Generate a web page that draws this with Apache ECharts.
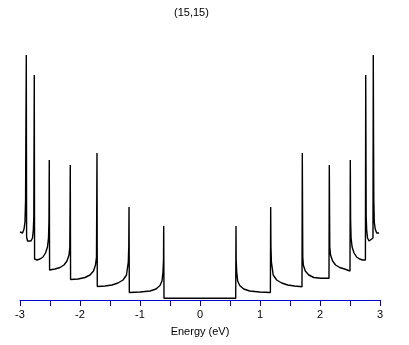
<!DOCTYPE html>
<html>
<head>
<meta charset="utf-8">
<script src="https://cdn.jsdelivr.net/npm/echarts@6/dist/echarts.min.js"></script>
<style>html,body{margin:0;padding:0;background:#fff;}#c{width:409px;height:345px;}</style>
</head>
<body>
<div id="c"></div>
<script>
// Density of states of the (15,15) nanotube
var titleText = "(15,15)";
var xName = "Energy (eV)";
var xTicks = [-3, -2, -1, 0, 1, 2, 3];

var energyLeft = [-3.000,-2.983,-2.958,-2.933,-2.917,-2.907,-2.903,-2.895,-2.890,-2.875,-2.850,-2.817,-2.792,-2.778,-2.770,-2.762,
  -2.757,-2.717,-2.667,-2.617,-2.575,-2.542,-2.525,-2.517,-2.512,
  -2.507,-2.417,-2.333,-2.267,-2.217,-2.183,-2.170,-2.162,
  -2.157,-2.033,-1.917,-1.833,-1.775,-1.742,-1.725,-1.717,
  -1.712,-1.583,-1.467,-1.367,-1.283,-1.225,-1.195,-1.187,-1.183,
  -1.178,-1.000,-0.833,-0.733,-0.667,-0.633,-0.617,-0.608,-0.605,-0.600];
var dosLeft = [6.8,6.65,6.7,7.1,7.8,10.0,15.3,24.5,6.3,5.9,5.8,5.9,6.2,7.0,8.3,22.5,
  4.1,4.0,4.1,4.3,4.7,5.3,6.2,8.0,14.0,
  3.0,3.1,3.25,3.5,3.9,4.5,5.3,13.5,
  2.05,2.1,2.25,2.5,2.9,3.5,4.3,14.7,
  1.35,1.4,1.5,1.7,2.0,2.5,3.8,5.4,9.3,
  0.75,0.8,0.9,1.1,1.45,1.9,2.8,4.0,7.4,0.17];

var energyGap = [0.0];
var dosGap = [0.17];

var energyRight = [0.595,0.600,0.603,0.612,0.628,0.662,0.728,0.828,0.995,
  1.173,1.178,1.182,1.190,1.220,1.278,1.362,1.462,1.578,
  1.700,1.705,1.713,1.722,1.755,1.813,1.897,2.013,
  2.150,2.155,2.163,2.176,2.210,2.260,2.327,2.410,
  2.500,2.505,2.510,2.518,2.535,2.568,2.610,2.660,2.710,
  2.757,2.762,2.770,2.778,2.792,2.817,2.850,
  2.883,2.888,2.893,2.897,2.905,2.920,2.945,2.970,2.985];
var dosRight = [0.17,7.4,4.0,2.8,1.9,1.45,1.1,0.9,0.8,
  0.75,9.3,5.4,3.8,2.5,2.0,1.7,1.5,1.4,
  1.33,14.7,4.3,3.5,2.9,2.5,2.25,2.17,
  2.17,13.5,5.3,4.5,3.9,3.5,3.25,3.1,
  2.9,14.0,8.0,6.2,5.3,4.7,4.3,4.1,4.0,
  4.0,22.5,8.3,7.0,6.2,5.9,5.8,
  6.2,24.5,15.3,10.0,7.8,7.1,6.7,6.65,6.7];

var energy = energyLeft.concat(energyGap, energyRight);
var dos = dosLeft.concat(dosGap, dosRight);
var seriesData = energy.map(function (e, i) { return [e, dos[i]]; });

var chart = echarts.init(document.getElementById('c'), null, {renderer: 'canvas'});
var font = '"Liberation Sans", Arial, sans-serif';
chart.setOption({
  animation: false,
  backgroundColor: '#ffffff',
  title: {
    text: titleText,
    left: 169, top: 2,
    textStyle: {fontSize: 11, fontWeight: 'normal', color: '#000', fontFamily: font}
  },
  grid: {left: 20, right: 29, top: 50, bottom: 45},
  xAxis: {
    type: 'value', min: -3, max: 3, interval: 0.5,
    name: xName, nameLocation: 'middle', nameGap: 26,
    nameTextStyle: {fontSize: 11, color: '#000', fontFamily: font},
    axisLine: {show: true, lineStyle: {color: '#0000cc', width: 1}},
    axisTick: {show: true, inside: false, length: 6, lineStyle: {color: '#0000cc', width: 1}},
    axisLabel: {
      margin: 9, fontSize: 11, color: '#000', fontFamily: font,
      formatter: function (v) { return xTicks.indexOf(v) >= 0 ? String(v) : ''; }
    },
    splitLine: {show: false}
  },
  yAxis: {
    type: 'value', min: 0, max: 25,
    show: false, splitLine: {show: false}
  },
  series: [{
    type: 'line',
    data: seriesData,
    showSymbol: false,
    symbol: 'none',
    lineStyle: {color: '#000', width: 1.4},
    silent: true
  }]
});
</script>
</body>
</html>
